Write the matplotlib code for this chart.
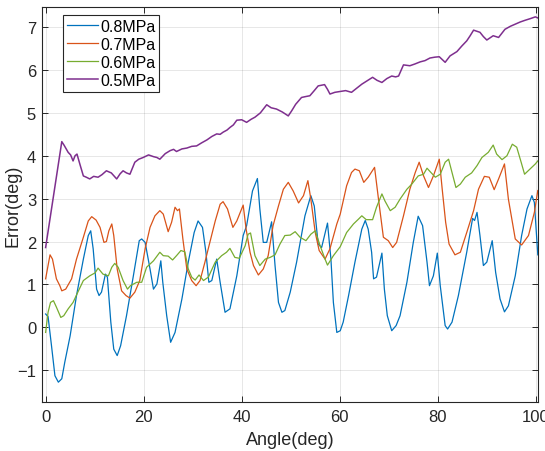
import matplotlib
matplotlib.use('Agg')
import matplotlib.pyplot as plt

plt.rcParams['font.family'] = ['Liberation Sans', 'DejaVu Sans']

# Angle (deg) / error (deg) samples for each supply pressure
ang_08 = [0, 0.5, 1.2, 1.9, 2.6, 3.3, 3.9, 5.0, 6.3, 7.7, 8.7, 9.2, 9.7, 10.4, 10.9, 11.4,
          12.2, 12.6, 13.3, 13.9, 14.6, 15.3, 16.5, 17.9, 19.1, 19.6, 20.3, 21.3, 22.0, 22.7,
          23.5, 23.9, 24.7, 25.5, 26.4, 27.8, 29.1, 30.3, 31.1, 32.0, 32.7, 33.3, 33.9, 34.9,
          35.6, 36.6, 37.6, 39.0, 40.3, 41.0, 42.2, 43.2, 43.7, 44.4, 45.1, 46.1, 46.8, 47.5,
          48.2, 48.8, 49.9, 51.2, 52.9, 54.1, 54.8, 55.6, 56.3, 57.5, 58.2, 58.7, 59.4, 60.1,
          60.7, 61.8, 63.1, 64.5, 65.2, 65.8, 66.5, 66.9, 67.5, 68.6, 69.1, 69.7, 70.6, 71.5,
          72.3, 73.7, 75.0, 76.0, 76.9, 77.8, 78.3, 79.1, 79.9, 80.5, 81.5, 82.0, 82.9, 84.2,
          85.9, 87.1, 87.5, 88.0, 88.6, 89.3, 90.0, 91.1, 91.8, 92.7, 93.6, 94.4, 95.8, 97.1,
          98.2, 99.2, 99.7, 100.4]
err_08 = [0.31, 0.25, -0.43, -1.13, -1.28, -1.20, -0.82, -0.20, 0.74, 1.59, 2.14, 2.25, 1.83,
          0.89, 0.74, 0.82, 1.24, 1.17, 0.12, -0.51, -0.66, -0.43, 0.27, 1.20, 2.02, 2.06, 1.98,
          1.36, 0.89, 1.01, 1.55, 1.05, 0.27, -0.35, -0.12, 0.66, 1.52, 2.21, 2.48, 2.33, 1.75,
          1.05, 1.09, 1.59, 1.05, 0.35, 0.43, 1.20, 2.14, 2.37, 3.18, 3.47, 2.76, 1.98, 1.98,
          2.46, 1.44, 0.58, 0.35, 0.39, 0.82, 1.52, 2.60, 3.07, 2.83, 1.94, 1.86, 2.43, 1.59,
          0.58, -0.12, -0.08, 0.12, 0.74, 1.52, 2.29, 2.49, 2.29, 1.75, 1.13, 1.17, 1.73, 0.89,
          0.27, -0.08, 0.04, 0.27, 1.05, 1.98, 2.59, 2.37, 1.52, 0.97, 1.20, 1.73, 0.97, 0.04,
          -0.04, 0.12, 0.74, 1.75, 2.54, 2.49, 2.68, 2.14, 1.44, 1.52, 2.02, 1.28, 0.66, 0.36,
          0.50, 1.20, 2.14, 2.76, 3.07, 2.91, 1.69]

ang_07 = [0, 0.9, 1.4, 2.2, 2.9, 3.3, 4.1, 5.3, 6.3, 7.7, 8.7, 9.4, 10.3, 11.1, 11.9, 12.4,
          12.9, 13.5, 13.9, 14.6, 15.5, 16.4, 17.2, 18.2, 19.2, 20.3, 21.3, 22.3, 23.3, 24.0,
          25.0, 25.7, 26.4, 26.9, 27.3, 28.0, 28.8, 29.8, 30.7, 31.5, 32.5, 33.5, 34.6, 35.6,
          36.2, 37.1, 38.2, 39.0, 39.7, 40.3, 40.9, 41.7, 42.4, 43.4, 44.4, 45.4, 46.4, 47.5,
          48.5, 49.5, 50.5, 51.6, 52.6, 53.5, 54.1, 55.0, 55.8, 57.0, 58.0, 59.4, 60.1, 61.4,
          62.4, 63.1, 64.0, 64.9, 65.8, 67.1, 67.9, 68.9, 69.9, 70.8, 71.6, 73.0, 74.3, 75.4,
          76.2, 77.1, 78.1, 79.1, 80.3, 80.9, 81.6, 82.3, 83.5, 84.6, 85.9, 87.3, 88.3, 89.5,
          90.5, 91.5, 92.4, 93.6, 94.4, 95.8, 97.1, 98.5, 99.7, 100.4]
err_07 = [1.13, 1.69, 1.59, 1.13, 0.97, 0.85, 0.89, 1.13, 1.59, 2.10, 2.48, 2.58, 2.50, 2.33,
          1.98, 2.00, 2.25, 2.41, 2.14, 1.36, 0.85, 0.74, 0.68, 0.82, 1.09, 1.83, 2.33, 2.60,
          2.72, 2.64, 2.23, 2.45, 2.80, 2.72, 2.76, 2.06, 1.36, 1.09, 0.97, 1.09, 1.52, 1.98,
          2.48, 2.87, 2.93, 2.76, 2.33, 2.48, 2.68, 2.85, 2.29, 1.75, 1.44, 1.22, 1.36, 1.67,
          2.37, 2.83, 3.22, 3.38, 3.18, 2.90, 3.07, 3.42, 2.99, 2.21, 1.79, 1.59, 1.83, 2.41,
          2.64, 3.30, 3.61, 3.69, 3.65, 3.38, 3.50, 3.73, 2.99, 2.10, 2.02, 1.86, 1.98, 2.60,
          3.22, 3.61, 3.85, 3.53, 3.26, 3.53, 3.92, 3.22, 2.45, 1.94, 1.69, 1.75, 2.21, 2.72,
          3.22, 3.52, 3.50, 3.21, 3.46, 3.81, 2.99, 2.06, 1.92, 2.14, 2.68, 3.19]

ang_06 = [0, 0.5, 1.0, 1.6, 2.2, 3.1, 3.7, 4.6, 5.6, 6.7, 7.7, 9.0, 10.1, 10.7, 11.7, 12.8,
          13.5, 14.1, 14.8, 15.8, 16.7, 17.3, 18.6, 19.6, 20.6, 22.0, 23.3, 24.0, 25.0, 25.9,
          26.7, 27.6, 28.4, 29.1, 29.8, 30.5, 31.3, 32.2, 33.2, 34.6, 35.9, 36.9, 37.6, 38.6,
          39.5, 40.7, 41.3, 41.8, 42.7, 43.7, 44.8, 45.8, 46.8, 47.8, 48.8, 49.9, 50.9, 51.9,
          53.1, 54.1, 55.0, 56.0, 57.0, 57.5, 58.7, 60.1, 61.4, 62.8, 63.8, 64.5, 65.4, 66.7,
          67.5, 68.6, 69.2, 70.3, 71.3, 72.3, 73.7, 74.7, 76.0, 77.1, 77.8, 78.6, 79.5, 80.5,
          81.5, 82.2, 82.9, 83.7, 84.6, 85.6, 86.9, 88.0, 89.0, 90.3, 91.3, 92.0, 93.1, 94.1,
          95.2, 96.1, 97.0, 97.7, 98.8, 99.9, 100.4]
err_06 = [-0.12, 0.35, 0.58, 0.62, 0.47, 0.23, 0.27, 0.43, 0.58, 0.85, 1.09, 1.20, 1.27, 1.38,
          1.24, 1.20, 1.40, 1.49, 1.40, 1.09, 0.89, 0.97, 1.05, 1.05, 1.40, 1.55, 1.75, 1.67,
          1.66, 1.57, 1.67, 1.79, 1.76, 1.36, 1.17, 1.10, 1.22, 1.09, 1.17, 1.52, 1.67, 1.75,
          1.84, 1.63, 1.61, 1.90, 2.17, 2.20, 1.67, 1.44, 1.59, 1.63, 1.69, 1.94, 2.14, 2.15,
          2.23, 2.10, 2.02, 2.17, 2.25, 1.90, 1.59, 1.45, 1.67, 1.88, 2.21, 2.41, 2.52, 2.60,
          2.51, 2.51, 2.80, 3.11, 2.95, 2.72, 2.80, 2.99, 3.22, 3.34, 3.53, 3.57, 3.71, 3.61,
          3.50, 3.57, 3.85, 3.92, 3.61, 3.26, 3.34, 3.50, 3.60, 3.77, 3.96, 4.08, 4.25, 4.04,
          3.91, 4.00, 4.27, 4.20, 3.85, 3.57, 3.69, 3.81, 3.88]

ang_05 = [0, 3.3, 3.8, 4.6, 5.1, 5.6, 6.0, 6.4, 7.0, 7.7, 8.3, 9.0, 9.8, 10.7, 11.5, 12.4,
          13.4, 14.5, 15.2, 15.8, 16.5, 17.2, 18.2, 19.0, 19.9, 21.0, 22.0, 22.7, 23.3, 24.4,
          25.4, 26.1, 26.7, 27.8, 28.8, 29.8, 30.8, 31.8, 32.9, 33.9, 34.9, 35.6, 36.2, 37.0,
          37.6, 38.3, 39.0, 40.0, 41.0, 41.9, 42.7, 43.8, 45.1, 46.0, 47.1, 48.3, 49.5, 50.2,
          51.0, 52.2, 53.0, 53.9, 54.8, 55.6, 56.9, 57.5, 58.0, 59.0, 60.1, 61.2, 62.4, 63.5,
          64.5, 65.6, 66.7, 67.6, 68.6, 69.6, 70.6, 71.4, 72.0, 73.0, 74.3, 75.3, 76.4, 77.4,
          78.4, 79.4, 80.3, 81.5, 82.5, 83.9, 84.9, 85.9, 86.6, 87.3, 88.6, 89.3, 90.0, 91.3,
          92.4, 93.7, 94.8, 95.8, 96.8, 97.8, 98.9, 99.9, 100.5]
err_05 = [1.86, 4.33, 4.24, 4.08, 4.02, 3.88, 4.00, 4.04, 3.80, 3.53, 3.50, 3.46, 3.52, 3.50,
          3.56, 3.65, 3.60, 3.46, 3.58, 3.65, 3.60, 3.57, 3.85, 3.92, 3.96, 4.02, 3.98, 3.96,
          3.92, 4.05, 4.12, 4.15, 4.10, 4.16, 4.18, 4.22, 4.23, 4.30, 4.37, 4.45, 4.51, 4.50,
          4.55, 4.60, 4.66, 4.72, 4.83, 4.84, 4.78, 4.85, 4.90, 5.00, 5.19, 5.12, 5.09, 5.02,
          4.93, 5.05, 5.20, 5.36, 5.38, 5.40, 5.52, 5.63, 5.66, 5.55, 5.44, 5.48, 5.50, 5.52,
          5.48, 5.58, 5.67, 5.75, 5.83, 5.76, 5.71, 5.80, 5.86, 5.84, 5.86, 6.12, 6.10, 6.14,
          6.19, 6.22, 6.28, 6.30, 6.31, 6.18, 6.33, 6.43, 6.56, 6.68, 6.80, 6.93, 6.88, 6.78,
          6.70, 6.80, 6.76, 6.95, 7.02, 7.07, 7.12, 7.16, 7.20, 7.24, 7.21]

labels = ['0.8MPa', '0.7MPa', '0.6MPa', '0.5MPa']
colors = ['#0072BD', '#D95319', '#77AC30', '#7E2F8E']

fig = plt.figure(figsize=(5.45, 4.52), dpi=100)
ax = fig.add_axes([0.0765, 0.1077, 0.9112, 0.8746])

ax.plot(ang_08, err_08, color=colors[0], lw=0.9, label=labels[0])
ax.plot(ang_07, err_07, color=colors[1], lw=0.9, label=labels[1])
ax.plot(ang_06, err_06, color=colors[2], lw=0.9, label=labels[2])
ax.plot(ang_05, err_05, color=colors[3], lw=1.1, label=labels[3])

ax.set_xlim(-0.8, 100.5)
ax.set_ylim(-1.75, 7.47)
ax.set_xticks([0, 20, 40, 60, 80, 100])
ax.set_yticks([-1, 0, 1, 2, 3, 4, 5, 6, 7])

# MATLAB-like box, inward ticks and faint grid
ax.grid(True, color='#262626', alpha=0.13, lw=0.6)
ax.set_axisbelow(True)
ax.tick_params(direction='in', top=True, right=True, length=4, width=0.7,
               labelsize=12, colors='#262626')
ax.tick_params(axis='x', pad=5)
ax.tick_params(axis='y', pad=4)
for sp in ax.spines.values():
    sp.set_color('#262626')
    sp.set_linewidth(0.8)

ax.set_xlabel('Angle(deg)', fontsize=13, color='#262626', labelpad=5)
ax.set_ylabel('Error(deg)', fontsize=13, color='#262626')
ax.yaxis.set_label_coords(-0.040, 0.5)

leg = ax.legend(loc='upper left', bbox_to_anchor=(0.0423, 0.98), borderaxespad=0,
                fontsize=11.5, handlelength=1.95, handletextpad=0.15, labelspacing=0.18,
                borderpad=0.25, fancybox=False, framealpha=1)
leg.get_frame().set_edgecolor('#262626')
leg.get_frame().set_linewidth(0.8)

fig.savefig('out.png', dpi=100)
